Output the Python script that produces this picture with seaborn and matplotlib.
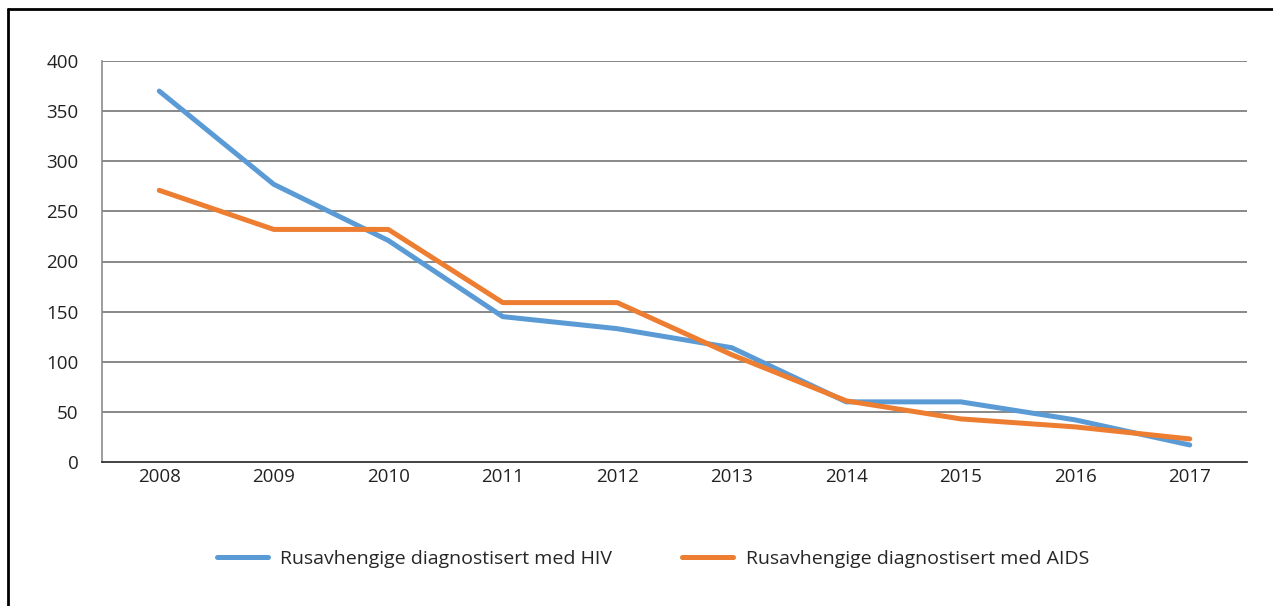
import matplotlib
matplotlib.use("Agg")
import matplotlib.pyplot as plt
import seaborn as sns
import pandas as pd
from matplotlib.lines import Line2D

years = ["2008", "2009", "2010", "2011", "2012", "2013", "2014", "2015", "2016", "2017"]
hiv = [370, 277, 221, 145, 133, 114, 60, 60, 42, 17]
aids = [271, 232, 232, 159, 159, 107, 61, 43, 35, 23]
series_names = ["Rusavhengige diagnostisert med HIV", "Rusavhengige diagnostisert med AIDS"]
yticks = [0, 50, 100, 150, 200, 250, 300, 350, 400]

sns.set_theme(style="white")
plt.rcParams["font.family"] = ["Open Sans", "DejaVu Sans"]

df = pd.DataFrame({
    "year": years * 2,
    "value": hiv + aids,
    "series": [series_names[0]] * len(years) + [series_names[1]] * len(years),
})

colors = {series_names[0]: "#5B9BD5", series_names[1]: "#ED7D31"}

fig = plt.figure(figsize=(12.73, 6.06), dpi=100)
ax = fig.add_axes([102 / 1273, 1 - 462 / 606, (1247 - 102) / 1273, (462 - 61) / 606])

for y in yticks[1:]:
    ax.axhline(y, color="#7f7f7f", lw=1.3, zorder=1)

sns.lineplot(data=df, x="year", y="value", hue="series", palette=colors,
             sort=False, linewidth=3.6, ax=ax, legend=False, zorder=3,
             solid_capstyle="round")

ax.set_xlim(-0.5, len(years) - 0.5)
ax.set_ylim(0, 400)
ax.set_yticks(yticks)
ax.set_yticklabels([str(v) for v in yticks])
ax.set_xlabel("")
ax.set_ylabel("")
ax.tick_params(axis="both", length=0, labelsize=13.5, colors="#222222")
ax.tick_params(axis="y", pad=17)
ax.tick_params(axis="x", pad=4)
for s in ["top", "right"]:
    ax.spines[s].set_visible(False)
ax.spines["left"].set_color("#8c8c8c")
ax.spines["left"].set_linewidth(1.2)
ax.spines["bottom"].set_color("#222222")
ax.spines["bottom"].set_linewidth(1.2)

handles = [Line2D([0], [0], color=colors[n], lw=3.6, solid_capstyle="round") for n in series_names]
fig.legend(handles, series_names, loc="center", bbox_to_anchor=(653 / 1273, 1 - 559 / 606),
           ncol=2, frameon=False, fontsize=14, handlelength=2.6, columnspacing=3.6,
           handletextpad=0.65)

# outer frame (top and left)
fig.add_artist(Line2D([8 / 1273, 8 / 1273], [0, 1 - 9 / 606], transform=fig.transFigure, color="black", lw=2))
fig.add_artist(Line2D([8 / 1273, 1.0], [1 - 9 / 606, 1 - 9 / 606], transform=fig.transFigure, color="black", lw=2))

fig.savefig("out.png", dpi=100)
